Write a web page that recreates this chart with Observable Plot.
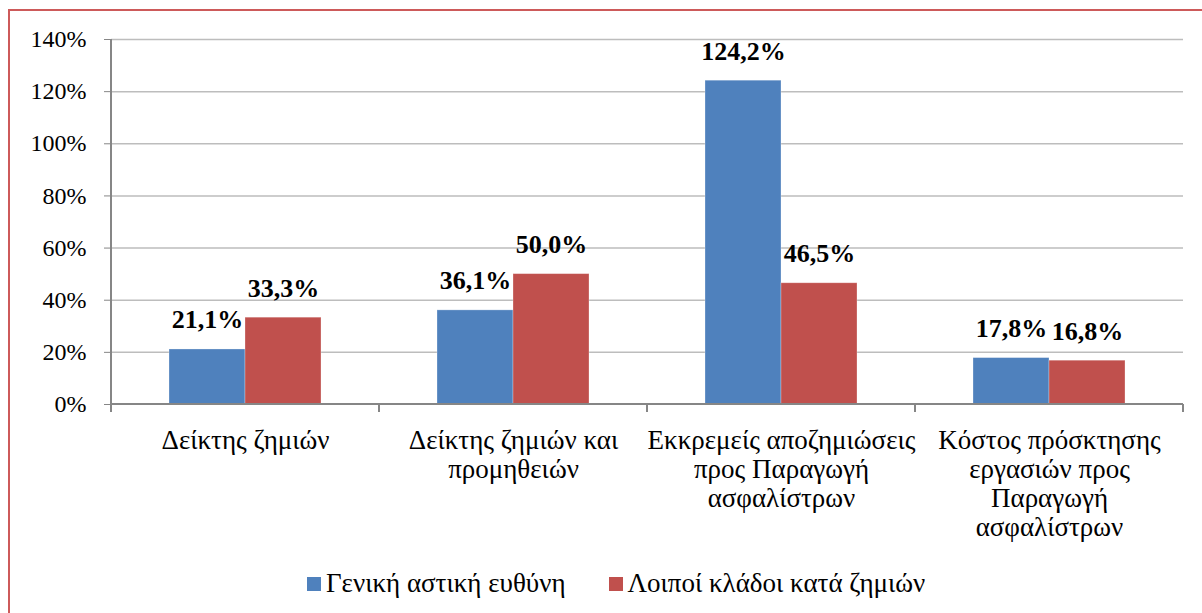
<!DOCTYPE html>
<html><head><meta charset="utf-8">
<script src="https://cdn.jsdelivr.net/npm/d3@7"></script>
<script src="https://cdn.jsdelivr.net/npm/@observablehq/plot@0.6"></script>
<style>
body{margin:0;background:#fff;font-family:"Liberation Serif","Times New Roman",serif;}
#wrap{position:relative;width:1202px;height:613px;overflow:hidden;}
#border{position:absolute;left:8px;top:9px;width:1300px;height:700px;border:2px solid #cd5a5a;box-sizing:border-box;}
#chart{position:absolute;left:0;top:0;}
#legend{position:absolute;top:570px;left:307px;font-size:27px;line-height:27px;display:flex;align-items:center;white-space:nowrap;}
.sw{width:14px;height:14px;display:inline-block;margin-right:5px;}
</style></head>
<body>
<div id="wrap">
<div id="border"></div>
<div id="chart"></div>
<div id="legend"></div>
</div>
<script>
const categories = [
  "Δείκτης ζημιών",
  "Δείκτης ζημιών και\nπρομηθειών",
  "Εκκρεμείς αποζημιώσεις\nπρος Παραγωγή\nασφαλίστρων",
  "Κόστος πρόσκτησης\nεργασιών προς\nΠαραγωγή\nασφαλίστρων"
];
const series = ["Γενική αστική ευθύνη", "Λοιποί κλάδοι κατά ζημιών"];
const blueValues = [21.1, 36.1, 124.2, 17.8];
const redValues = [33.3, 50.0, 46.5, 16.8];
const yTicks = [0, 20, 40, 60, 80, 100, 120, 140];
const colors = ["#4f81bd", "#c0504d"];

const data = categories.flatMap((c, i) => [
  {cat: c, series: series[0], value: blueValues[i]},
  {cat: c, series: series[1], value: redValues[i]}
]);

const plot = Plot.plot({
  width: 1202, height: 613,
  marginLeft: 110, marginRight: 18, marginTop: 39, marginBottom: 209,
  style: {fontFamily: '"Liberation Serif","Times New Roman",serif', fontSize: "24px", background: "transparent", color: "#000"},
  fx: {domain: categories, padding: 0, label: null},
  x: {domain: series, paddingInner: 0, paddingOuter: 0.745, axis: null},
  y: {domain: [0, 140], label: null},
  color: {domain: series, range: colors},
  marks: [
    Plot.ruleY(yTicks.slice(1), {stroke: "#bdbdbd", strokeWidth: 1.5}),
    Plot.barY(data, {fx: "cat", x: "series", y: "value", fill: "series", stroke: "#ffffff", strokeOpacity: 0.35, strokeWidth: 0.8}),
    Plot.text(data, {fx: "cat", x: "series", y: "value",
      text: d => d.value.toFixed(1).replace(".", ",") + "%",
      lineAnchor: "bottom", dy: -21, fontWeight: "bold", fontSize: 26, fill: "#000"}),
    Plot.axisY({ticks: yTicks, tickFormat: d => d + "%", tickSize: 7, tickPadding: 18,
      stroke: "#868686", fill: "#000", fontSize: 24, label: null}),
    Plot.axisFx({anchor: "bottom", tickSize: 0, tickPadding: 24, lineHeight: 1.07, fontSize: 27, fill: "#000", label: null})
  ]
});
document.getElementById("chart").appendChild(plot);

// Excel-style axis lines and category boundary ticks, placed with the plot's scales
const fx = plot.scale("fx"), y = plot.scale("y");
const svg = d3.select(plot);
const g = svg.append("g").attr("stroke", "#868686").attr("stroke-width", 2);
const x0 = fx.apply(categories[0]);
const x1 = fx.apply(categories[categories.length - 1]) + fx.bandwidth;
const y0 = y.apply(0), yTop = y.apply(140);
g.append("line").attr("x1", x0).attr("x2", x0).attr("y1", yTop).attr("y2", y0);
g.append("line").attr("x1", x0).attr("x2", x1).attr("y1", y0).attr("y2", y0);
const bounds = categories.map(c => fx.apply(c)).concat([x1]);
bounds.forEach(b => g.append("line").attr("x1", b).attr("x2", b).attr("y1", y0).attr("y2", y0 + 8));

// Legend
const legend = d3.select("#legend");
series.forEach((s, i) => {
  const item = legend.append("span").style("display", "inline-flex").style("align-items", "center")
    .style("margin-right", i === 0 ? "43px" : "0");
  item.append("span").attr("class", "sw").style("background", colors[i]);
  item.append("span").text(s);
});
</script>
</body></html>
